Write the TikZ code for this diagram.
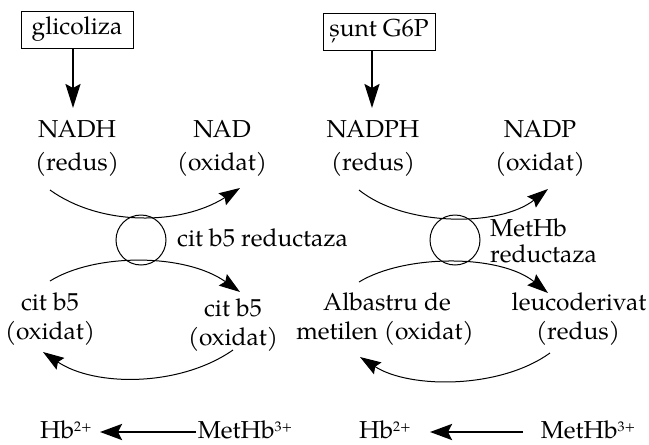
\documentclass[tikz,border=0pt]{standalone}
\usepackage{fontspec}
\setmainfont{TeX Gyre Pagella}
\usetikzlibrary{arrows.meta}
\newcommand{\supx}[1]{\raisebox{0.6ex}{\fontsize{14}{14}\selectfont #1}}
\begin{document}
\begin{tikzpicture}[x=1pt,y=-1pt,
  txt/.style={inner sep=0pt,anchor=base,font=\fontsize{24.5}{28}\selectfont},
  boxed/.style={draw,line width=0.9pt,inner sep=0pt,minimum width=112pt,minimum height=37pt,font=\fontsize{24.5}{28}\selectfont},
  thin/.style={line width=1pt,-{Stealth[length=21pt,width=14pt,inset=3pt]}},
  thick/.style={line width=2.2pt,-{Stealth[length=24pt,width=15pt,inset=4pt]}},
  thicker/.style={line width=2.6pt,-{Stealth[length=22pt,width=16pt,inset=4pt]}},
  enz/.style={draw,circle,line width=1pt,minimum size=50pt,inner sep=0pt}]
\useasboundingbox (0,0) rectangle (649,445);
% ---------- left ----------
\node[boxed] (glic) at (77,29.5) {glicoliza};
\node[txt] (nadh) at (77,137) {NADH};
\node[txt] (nadhr) at (77,170) {(redus)};
\node[txt] (nad) at (222,137) {NAD};
\node[txt] (nadox) at (222,170) {(oxidat)};
\coordinate (ga) at (73,108);
\draw[thick] (glic.south -| ga) -- (ga);
\node[enz] (e1) at (141,240) {};
\node[txt,anchor=base west] (e1l) at (177,246) {cit b5 reductaza};
\coordinate (u1s) at (50,190); \coordinate (u1e) at (240,188);
\draw[thin] (u1s) .. controls (100,226) and (180,226) .. (u1e);
\coordinate (l1s) at (50,281); \coordinate (l1e) at (240,292);
\draw[thin] (l1s) .. controls (95,253) and (185,253) .. (l1e);
\node[txt] (cb1) at (50,310) {cit b5};
\node[txt] (cb1o) at (50,339) {(oxidat)};
\node[txt] (cb2) at (233,316) {cit b5};
\node[txt] (cb2o) at (233,345) {(oxidat)};
\coordinate (b1s) at (233,350); \coordinate (b1e) at (43,352);
\draw[thin] (b1s) .. controls (180,387) and (95,387) .. (b1e);
\node[txt] (hb1) at (66,438.5) {Hb\supx{2+}};
\node[txt] (met1) at (245,438.5) {MetHb\supx{3+}};
\coordinate (m1) at (196,432) {}; \coordinate (h1) at (100,432);
\draw[thicker] (m1) -- (h1);
% ---------- right ----------
\node[boxed] (shunt) at (379,31.5) {șunt G6P};
\node[txt] (nadph) at (373,137) {NADPH};
\node[txt] (nadphr) at (373,170) {(redus)};
\node[txt] (nadp) at (540,137) {NADP};
\node[txt] (nadpox) at (540,170) {(oxidat)};
\coordinate (sa) at (372,108);
\draw[thick] (shunt.south -| sa) -- (sa);
\node[enz] (e2) at (455,240) {};
\node[txt,anchor=base west] (e2a) at (490,236) {MetHb};
\node[txt,anchor=base west] (e2b) at (490,262) {reductaza};
\coordinate (u2s) at (359,190); \coordinate (u2e) at (548,189);
\draw[thin] (u2s) .. controls (405,227) and (500,227) .. (u2e);
\coordinate (l2s) at (359,282); \coordinate (l2e) at (548,293);
\draw[thin] (l2s) .. controls (405,254) and (500,254) .. (l2e);
\node[txt] (alb) at (387,310) {Albastru de};
\node[txt] (albo) at (385,339) {metilen (oxidat)};
\node[txt] (leu) at (579,310) {leucoderivat};
\node[txt] (leur) at (578,339) {(redus)};
\coordinate (b2s) at (550,353); \coordinate (b2e) at (360,357);
\draw[thin] (b2s) .. controls (500,389) and (410,389) .. (b2e);
\node[txt] (hb2) at (385,438.5) {Hb\supx{2+}};
\node[txt] (met2) at (588,438.5) {MetHb\supx{3+}};
\coordinate (m2) at (523,432); \coordinate (h2) at (430,432);
\draw[thicker] (m2) -- (h2);
\end{tikzpicture}
\end{document}
